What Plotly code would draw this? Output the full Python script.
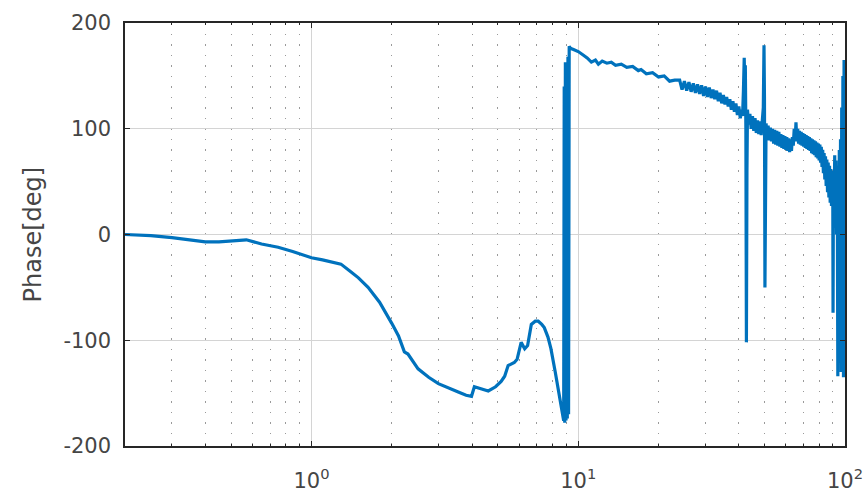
import plotly.graph_objects as go

# ---- data (frequency in Hz, phase in deg) ----
freq_low = [0.2, 0.25, 0.3, 0.35, 0.4, 0.45, 0.5, 0.57, 0.65, 0.75, 0.85, 0.92,
            1.0, 1.1, 1.2, 1.29, 1.4, 1.5, 1.63, 1.8, 2.0, 2.12, 2.23, 2.3,
            2.51, 2.75, 2.99, 3.3, 3.55, 3.8, 3.98, 4.08, 4.3, 4.6, 4.9, 5.14,
            5.3, 5.46, 5.76, 5.9, 6.11, 6.3, 6.46, 6.67, 6.9, 7.08, 7.3, 7.46,
            7.7, 7.9, 8.2, 8.5, 8.7]
phase_low = [0, -1, -3, -5, -7, -7, -6, -5, -9, -12, -16, -19,
             -22, -24, -26, -28, -35, -41, -50, -64, -84, -96, -111, -113,
             -127, -135, -141, -146, -149, -152, -153, -144, -146, -148, -144, -139,
             -134, -124, -121, -118, -102, -108, -105, -85, -82, -82, -85, -88,
             -97, -108, -130, -155, -168]

freq_jump = [8.75, 8.82, 8.86, 8.9, 8.95, 9.0, 9.05, 9.1, 9.15, 9.2, 9.25, 9.35, 9.6]
phase_jump = [-172, -176, 140, -178, 163, -176, 160, -174, 168, -170, 178, 176, 175]

freq_mid = [10, 10.4, 10.8, 11.2, 11.6, 11.9, 12.3, 12.8, 13.3, 13.8, 14.5, 15.2,
            16, 16.8, 17.2, 18, 19, 20, 21, 22, 23]
phase_mid = [173, 170, 167, 163, 165, 161, 164, 162, 163, 160, 161, 158,
             159, 155, 156, 152, 153, 149, 150, 145, 146]

freq_band1 = [24.0, 24.5, 25.0, 25.5, 26.0, 26.5, 27.0, 27.5, 28.0, 28.5, 29.0, 29.5,
              30.0, 30.5, 31.0, 31.5, 32.0, 32.5, 33.0, 33.5, 34.0, 34.5, 35.0, 35.5,
              36.0, 36.5, 37.0, 37.5, 38.0, 38.5, 39.0, 39.5, 40.0, 40.5, 41.0]
phase_band1 = [146, 137, 145, 136, 144, 135, 143, 134, 142, 133, 141, 131,
               140, 130, 139, 129, 137, 128, 136, 126, 134, 124, 132, 123,
               130, 121, 128, 118, 126, 116, 124, 113, 121, 110, 118]

freq_spikes = [41.3, 41.6, 41.9, 42.1, 42.3, 42.5, 42.7, 42.9, 43.1,
               43.5, 44.0, 44.5, 45.0, 45.5, 46.0, 46.5, 47.0, 47.5, 48.0, 48.5, 49.0,
               49.4, 49.7, 49.9, 50.1, 50.3, 50.6]
phase_spikes = [112, 135, 167, 140, 160, 100, -102, 60, 118,
                104, 114, 100, 112, 98, 110, 96, 108, 95, 107, 94, 106,
                120, 179, 130, -50, 80, 105]

freq_band2 = [51, 51.5, 52, 52.5, 53, 53.5, 54, 54.5, 55, 55.5, 56, 56.5, 57, 57.5,
              58, 58.5, 59, 59.5, 60, 60.5, 61, 61.5, 62, 62.5, 63, 63.5, 64, 64.5,
              65, 65.5, 66, 66.5, 67, 67.5, 68, 68.5, 69, 69.5, 70, 70.5, 71, 71.5,
              72, 72.5, 73, 73.5, 74, 74.5, 75, 75.5, 76, 76.5, 77, 77.5, 78, 78.5,
              79, 79.5, 80, 80.5, 81, 81.5, 82, 82.5, 83, 83.5, 84, 84.5, 85, 85.5,
              86, 86.5, 87, 87.5, 88, 88.5, 89, 89.5]
phase_band2 = [91, 103, 89, 101, 88, 100, 86, 99, 85, 98, 84, 97, 83, 95,
               82, 94, 81, 93, 80, 92, 79, 91, 78, 90, 79, 92, 84, 100,
               88, 106, 88, 100, 86, 98, 85, 97, 84, 96, 83, 95, 82, 94,
               81, 93, 80, 92, 79, 91, 77, 90, 76, 89, 75, 88, 73, 87,
               72, 86, 70, 85, 68, 83, 64, 80, 58, 77, 52, 74, 46, 71,
               40, 68, 35, 65, 30, 62, 27, 60]

freq_edge = [90, 90.2, 90.5, 91, 91.5, 92, 92.5, 93, 93.5, 94, 94.3, 94.8, 95.2,
             95.7, 96.2, 96.7, 97.2, 97.7, 98.2, 98.7, 99.2, 99.6, 100]
phase_edge = [40, -74, 50, 20, 75, 10, 70, 0, 65, -134, 60, -60, 80,
              -120, 90, -130, 120, -110, 150, -135, 165, -100, 160]

freq = freq_low + freq_jump + freq_mid + freq_band1 + freq_spikes + freq_band2 + freq_edge
phase = phase_low + phase_jump + phase_mid + phase_band1 + phase_spikes + phase_band2 + phase_edge

x_major = [1, 10, 100]
x_major_text = ["10<sup>0</sup>", "10<sup>1</sup>", "10<sup>2</sup>"]
x_minor = [0.3, 0.4, 0.5, 0.6, 0.7, 0.8, 0.9,
           2, 3, 4, 5, 6, 7, 8, 9,
           20, 30, 40, 50, 60, 70, 80, 90]
y_ticks = [-200, -100, 0, 100, 200]
y_tick_text = ["-200", "-100", "0", "100", "200"]

FONT = "DejaVu Sans"
TXT = "#454545"

fig = go.Figure()
fig.add_trace(go.Scatter(x=freq, y=phase, mode="lines",
                         line=dict(color="#0072BD", width=3.2),
                         showlegend=False))

fig.update_layout(
    width=868, height=501,
    margin=dict(l=125, r=23, t=23, b=55),
    paper_bgcolor="white", plot_bgcolor="white",
    font=dict(family=FONT, size=21, color=TXT),
    annotations=[dict(text="Phase[deg]", xref="paper", yref="paper",
                      x=-93 / 720, y=0.5, xanchor="center", yanchor="middle",
                      textangle=-90, showarrow=False,
                      font=dict(family=FONT, size=24, color=TXT))],
)

fig.update_xaxes(
    type="log", range=[-0.69897, 2], automargin=False,
    tickvals=x_major, ticktext=x_major_text,
    ticks="inside", ticklen=5, tickwidth=1, tickcolor="#262626",
    showgrid=True, gridcolor="#d4d4d4", gridwidth=1,
    showline=True, linecolor="#262626", linewidth=1.5, mirror="ticks",
    zeroline=False, ticklabelstandoff=15,
    minor=dict(tickvals=x_minor, ticks="inside", ticklen=2, tickcolor="#262626",
               showgrid=True, gridcolor="#9a9a9a", gridwidth=1.2,
               griddash="1.5px,9px"),
)
fig.update_yaxes(
    range=[-200, 200], automargin=False,
    tickvals=y_ticks, ticktext=y_tick_text,
    ticks="inside", ticklen=5, tickwidth=1, tickcolor="#262626",
    showgrid=True, gridcolor="#d4d4d4", gridwidth=1,
    showline=True, linecolor="#262626", linewidth=1.5, mirror="ticks",
    zeroline=False, ticklabelstandoff=8,
)

fig.write_html("out.html",
               config={"displayModeBar": False},
               post_script="document.body.style.margin='0px';"
                           "document.body.style.overflow='hidden';")
